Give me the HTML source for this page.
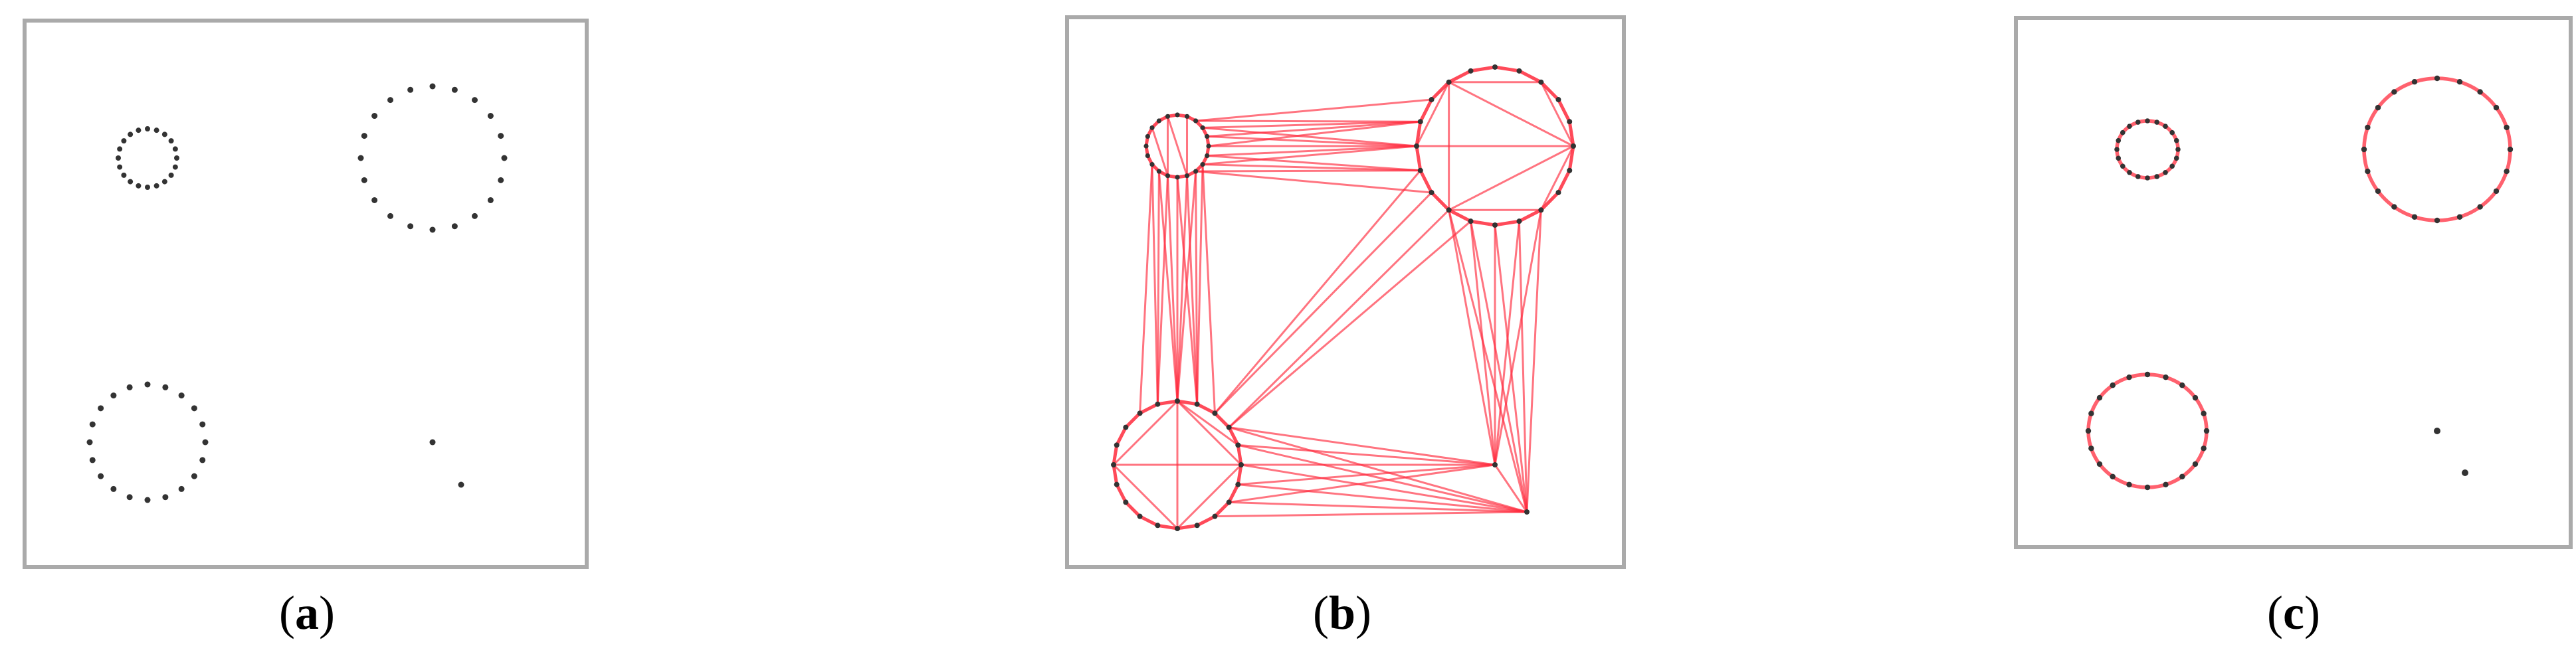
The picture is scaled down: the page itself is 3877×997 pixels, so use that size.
<!DOCTYPE html>
<html><head><meta charset="utf-8"><style>
html,body{margin:0;padding:0;background:#fff;}
body{width:3877px;height:997px;overflow:hidden;}
.lbl{position:absolute;top:882px;font-family:"Liberation Serif",serif;font-size:72px;color:#000;transform:translateX(-50%);white-space:nowrap;}
.lbl b{font-weight:bold;}
</style></head><body>
<svg id="s" width="3877" height="997" style="position:absolute;left:0;top:0">
<rect x="37" y="31" width="846" height="823" fill="none" stroke="#aaa" stroke-width="6"/>
<rect x="1606" y="26" width="838" height="828" fill="none" stroke="#aaa" stroke-width="6"/>
<rect x="3034" y="27" width="835" height="797" fill="none" stroke="#aaa" stroke-width="6"/>
<g id="lines" stroke="#ff2a3c" stroke-opacity="0.65" stroke-width="3" fill="none"></g>
<g id="rings" stroke="#ff3a4a" stroke-opacity="0.8" stroke-width="5.5" fill="none"></g>
<g id="dots" fill="#333"></g>
</svg>
<div class="lbl" style="left:462px">(<b>a</b>)</div>
<div class="lbl" style="left:2020px">(<b>b</b>)</div>
<div class="lbl" style="left:3452px">(<b>c</b>)</div>
<script>
var NS="http://www.w3.org/2000/svg";
var L=document.getElementById('lines'),R=document.getElementById('rings'),D=document.getElementById('dots');
function el(g,t,a){var e=document.createElementNS(NS,t);for(var k in a)e.setAttribute(k,a[k]);g.appendChild(e);return e;}
function ring(cx,cy,rx,ry,n,off){var p=[];for(var i=0;i<n;i++){var t=2*Math.PI*i/n+(off||0);p.push({x:cx+rx*Math.cos(t),y:cy+ry*Math.sin(t),nx:Math.cos(t),ny:Math.sin(t)});}return p;}
function dots(p,r){p.forEach(function(q){el(D,'circle',{cx:q.x,cy:q.y,r:r||4.5});});}
function line(a,b){el(L,'line',{x1:a.x,y1:a.y,x2:b.x,y2:b.y});}
var a1=ring(222,238,44,44,20),a2=ring(651,238,108,108,20),a3=ring(222,666,87,87,20);
dots(a1,4);dots(a2);dots(a3);dots([{x:651,y:666},{x:694,y:730}]);
var c1=ring(3232,225,46,43,20),c2=ring(3668,225,110,107,20),c3=ring(3232,649,89,85,20);
el(R,'ellipse',{cx:3232,cy:225,rx:46,ry:43});el(R,'ellipse',{cx:3668,cy:225,rx:110,ry:107});el(R,'ellipse',{cx:3232,cy:649,rx:89,ry:85});
dots(c1,3.8);dots(c2,4.2);dots(c3,4.2);dots([{x:3668,y:649},{x:3710,y:712}],5);
var b1=ring(1772,220,47,47,20),b2=ring(2250,220,118,119,20),b3=ring(1772,700,96,96,20);
var P=[{x:2250,y:700,nx:0,ny:0},{x:2298,y:771,nx:0,ny:0}];
function poly(p){var d='M'+p.map(function(q){return q.x+','+q.y;}).join('L')+'Z';el(L,'path',{d:d,'stroke-width':5,'stroke-opacity':0.85});}
poly(b1);poly(b2);poly(b3);
function connect(X,Y,th,maxPer){X.forEach(function(p){var c=[];Y.forEach(function(q){var dx=q.x-p.x,dy=q.y-p.y,l=Math.hypot(dx,dy);dx/=l;dy/=l;var s1=p.nx*dx+p.ny*dy,s2=-(q.nx*dx+q.ny*dy);if(q.nx===0&&q.ny===0)s2=1;if(s1>th&&s2>th)c.push({q:q,s:s1+s2});});c.sort(function(u,v){return v.s-u.s;});c.slice(0,maxPer).forEach(function(o){line(p,o.q);});});}
connect(b1,b2,0.55,2);
connect(b1,b3,0.55,2);
connect(b3,P,0.5,2);
connect(b2,P,0.55,2);
connect(b2,b3,0.85,1);
line(P[0],P[1]);
function chords(p,pairs){pairs.forEach(function(k){line(p[k[0]],p[k[1]]);});}
chords(b2,[[13,0],[13,7],[7,0],[0,10],[13,17],[17,0],[0,3],[3,7],[10,13]]);
chords(b3,[[15,5],[15,10],[10,5],[5,0],[0,15],[10,0],[15,19]]);
chords(b1,[[14,6],[14,4],[6,12],[4,16]]);
dots(b1,3.6);dots(b2,4);dots(b3,4);dots(P,4);
</script>
</body></html>
